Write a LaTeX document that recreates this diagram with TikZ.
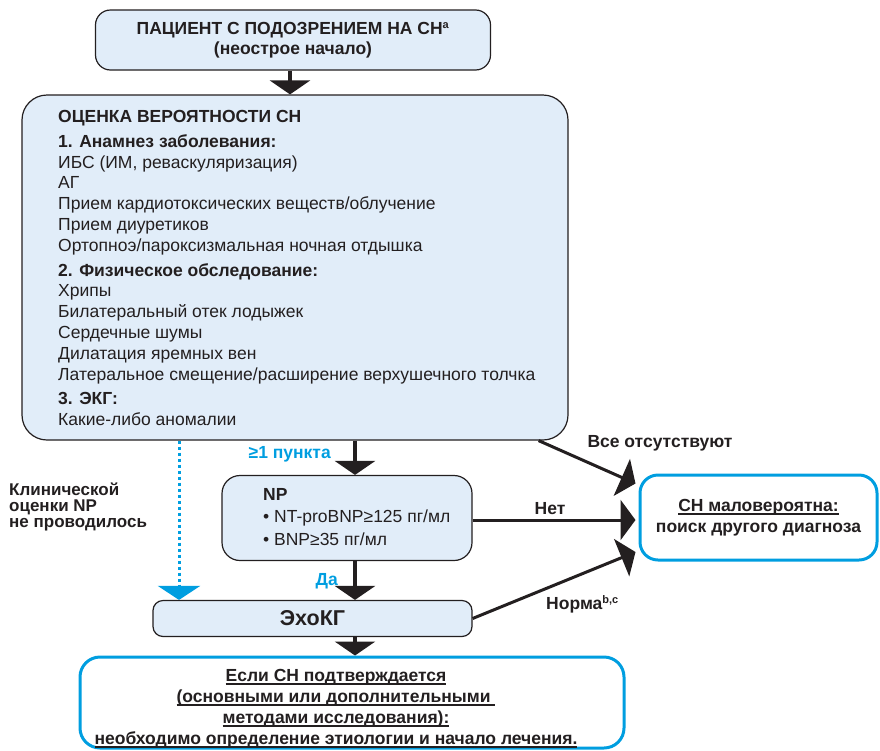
\documentclass[tikz,border=0pt]{standalone}
\usepackage{fontspec}
\setmainfont{Liberation Sans}
\usetikzlibrary{arrows.meta,calc}
\definecolor{boxfill}{RGB}{225,237,249}
\definecolor{cyanb}{RGB}{0,158,224}
\definecolor{ink}{RGB}{35,31,32}
\newcommand\thickul[1]{{\setbox0\hbox{#1}\rlap{\raisebox{-3pt}{\rule{\wd0}{1.4pt}}}\box0}}
\newcommand\supsm[1]{\textsuperscript{\fontsize{11}{11}\selectfont #1}}
\tikzset{
  lbox/.style={draw=ink, line width=1.2pt, fill=boxfill, inner sep=0pt},
  bbox/.style={draw=cyanb, line width=3pt, fill=white, inner sep=0pt},
  varr/.style={draw=ink, line width=3.5pt, -{Triangle[length=14pt,width=40pt]}},
  darr/.style={draw=ink, line width=3pt, -{Triangle[length=15pt,width=40pt]}},
  dotarr/.style={draw=cyanb, line width=3pt, dash pattern=on 3pt off 3pt, -{Triangle[length=14pt,width=42pt,fill=cyanb]}},
  txt/.style={inner sep=0pt, text=ink},
  lbl/.style={inner sep=0pt, text=ink, font=\bfseries\fontsize{17.5}{18}\selectfont},
  blbl/.style={inner sep=0pt, text=cyanb, font=\bfseries\fontsize{17.5}{18}\selectfont},
}
\begin{document}
\begin{tikzpicture}[x=1pt,y=-1pt]
\useasboundingbox (0,0) rectangle (880,750);
% boxes
\node[lbox, rounded corners=15pt, minimum width=395pt, minimum height=60pt, align=center,
  font=\bfseries\fontsize{17.5}{19.5}\selectfont, text=ink] (top) at (293,40)
  {ПАЦИЕНТ С ПОДОЗРЕНИЕМ НА СН\supsm{а}\\(неострое начало)};
\node[lbox, rounded corners=25pt, minimum width=546pt, minimum height=345pt] (big) at (295,267.5) {};
\node[txt, anchor=north west, align=left, font=\fontsize{17.5}{20.8}\selectfont] (bigtxt) at (58,110)
 {\textbf{ОЦЕНКА ВЕРОЯТНОСТИ СН}\\[4pt]
  \textbf{1. Анамнез заболевания:}\\
  ИБС (ИМ, реваскуляризация)\\
  АГ\\
  Прием кардиотоксических веществ/облучение\\
  Прием диуретиков\\
  Ортопноэ/пароксизмальная ночная отдышка\\[4pt]
  \textbf{2. Физическое обследование:}\\
  Хрипы\\
  Билатеральный отек лодыжек\\
  Сердечные шумы\\
  Дилатация яремных вен\\
  Латеральное смещение/расширение верхушечного толчка\\[4pt]
  \textbf{3. ЭКГ:}\\
  Какие-либо аномалии};
\node[lbox, rounded corners=18pt, minimum width=250pt, minimum height=85pt] (np) at (347,518) {};
\node[txt, anchor=north west, align=left, font=\fontsize{17.5}{22.5}\selectfont] (nptxt) at (263,488)
 {\textbf{NP}\\
  • NT-proBNP≥125 пг/мл\\
  • BNP≥35 пг/мл};
\node[lbox, rounded corners=10pt, minimum width=319pt, minimum height=36pt,
  font=\bfseries\fontsize{21.5}{22}\selectfont, text=ink] (echo) at (312.5,618.5) {ЭхоКГ};
\node[bbox, rounded corners=20pt, minimum width=544pt, minimum height=91pt] (res) at (352,702.5) {};
\node[txt, align=center, font=\bfseries\fontsize{17.5}{21}\selectfont] (restxt) at (336,709)
 {\thickul{Если СН подтверждается}\\
  \thickul{(основными или дополнительными }\\
  \thickul{методами исследования):}\\
  \thickul{необходимо определение этиологии и начало лечения.}};
\node[bbox, rounded corners=18pt, minimum width=237pt, minimum height=85pt, align=center,
  font=\bfseries\fontsize{17.5}{20.5}\selectfont, text=ink] (no) at (758.5,517.5)
 {\thickul{СН маловероятна:}\\поиск другого диагноза};
% connectors
\coordinate (col) at (355,0);
\draw[varr] (top.south -| 290,0) -- (big.north -| 290,0);
\draw[varr] (big.south -| col) -- (np.north -| col);
\draw[varr] (np.south -| col) -- (echo.north -| col);
\draw[varr] (echo.south -| col) -- (res.north -| col);
\coordinate (dstart) at (big.south -| 179,0);
\coordinate (dend) at (echo.north -| 179,0);
\draw[dotarr] (dstart) -- (dend);
\coordinate (b1) at ($(big.south east)+(-30,0)$);
\coordinate (t1) at ($(no.west)+(-3,-34)$);
\coordinate (t2) at ($(no.west)+(-3,2.5)$);
\coordinate (t3) at ($(no.west)+(-3,34.5)$);
\draw[darr] (b1) -- (t1);
\draw[darr] (np.east |- t2) -- (t2);
\draw[darr] (echo.east) -- (t3);
% labels
\node[lbl] (l1) at (660,443) {Все отсутствуют};
\node[lbl] (l2) at (550,509) {Нет};
\node[lbl, anchor=west] (l3) at (546,604) {Норма\supsm{b,c}};
\node[blbl, anchor=east] (l4) at (331,454) {≥1 пункта};
\node[blbl, anchor=east] (l5) at (338,581) {Да};
\node[lbl, anchor=north west, align=left, font=\bfseries\fontsize{17}{15.8}\selectfont] (l6) at (9,483)
 {Клинической\\оценки NP\\не проводилось};
\end{tikzpicture}
\end{document}
